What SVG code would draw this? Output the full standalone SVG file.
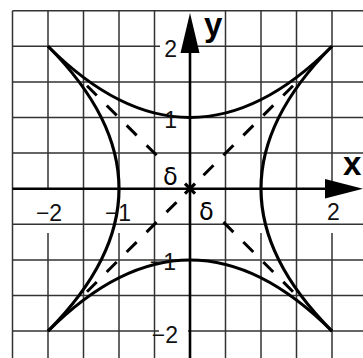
<svg xmlns="http://www.w3.org/2000/svg" width="363" height="358" viewBox="0 0 363 358">
<style>
.grid{stroke:#333;stroke-width:1.5;fill:none}
.axis{stroke:#000;stroke-width:2.6;fill:none}
.curve{stroke:#000;stroke-width:3;fill:none}
.dash{stroke:#000;stroke-width:3;fill:none;stroke-dasharray:14.1 14.1}
.lbl{font-family:"Liberation Sans",Arial,sans-serif;font-size:23px;fill:#111}
.ax{font-family:"Liberation Sans",Arial,sans-serif;font-size:33px;font-weight:bold;fill:#000}
.mk{font-family:"DejaVu Sans",sans-serif;font-size:24px;fill:#000}
</style>
<rect width="363" height="358" fill="#fff"/>
<g id="grid" class="grid">
<path d="M12.5,10.7H363M12.5,46.3H160M188,46.3H363M12.5,81.9H363M12.5,117.5H363M12.5,153.1H363M12.5,224.3H363M12.5,259.9H363M12.5,295.5H363M12.5,331.1H159M188,331.1H363"/>
<path d="M12.5,10.7V358M48,10.7V190M48,233V358M83.5,10.7V358M119,10.7V190M119,233V358M154.5,10.7V358M225.5,10.7V358M261,10.7V190M261,233V358M296.5,10.7V358M332,10.7V190M332,233V358"/>
</g>
<g id="axes">
<path class="axis" d="M12.5,188.7H330M190,358V50"/>
<polygon points="325,179 363,188.7 325,198.5" fill="#000"/>
<polygon points="190,13 180.5,53 199.5,53" fill="#000"/>
<path d="M185,183.7L195,193.7M185,193.7L195,183.7" stroke="#000" stroke-width="3.2"/>
</g>
<g id="curves" class="curve">
<path d="M48,46.3Q190,188.7 332,46.3"/>
<path d="M332,46.3Q190,188.7 332,331.1"/>
<path d="M332,331.1Q190,188.7 48,331.1"/>
<path d="M48,331.1Q190,188.7 48,46.3"/>
</g>
<g id="diagonals" class="dash">
<path d="M203.5,175.2L293,85.7"/>
<path d="M176.5,202.2L87,291.7"/>
<path d="M156.6,155.3L87,85.7"/>
<path d="M223.4,222.1L293,291.7"/>
</g>
<g id="labels">
<text class="ax" x="343" y="175">x</text>
<text class="ax" x="204" y="36">y</text>
<text class="lbl" x="49" y="221" text-anchor="middle">−2</text>
<text class="lbl" x="118" y="221" text-anchor="middle">−1</text>
<text class="lbl" x="333.5" y="220" text-anchor="middle">2</text>
<text class="lbl" x="177" y="57" text-anchor="end">2</text>
<text class="lbl" x="177" y="128" text-anchor="end">1</text>
<text class="lbl" x="176" y="270" text-anchor="end">−1</text>
<text class="lbl" x="178" y="343" text-anchor="end">−2</text>
<text class="mk" x="163" y="185">δ</text>
<text class="mk" x="199" y="220">δ</text>
</g>
</svg>
